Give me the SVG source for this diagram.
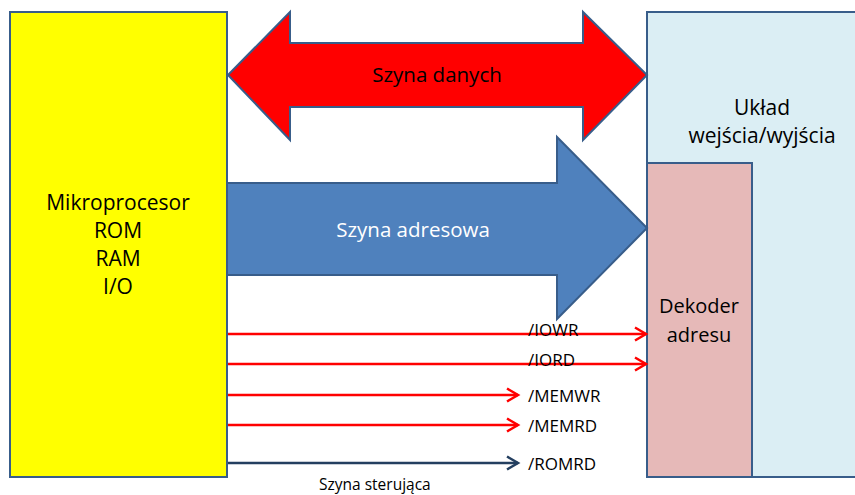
<svg xmlns="http://www.w3.org/2000/svg" width="855" height="495" viewBox="0 0 855 495">
<style>
.box{stroke:#385D8A;stroke-width:2}
.t{font-family:"Open Sans","Liberation Sans",sans-serif;fill:#000}
.lbl{font-family:"Open Sans","Liberation Sans",sans-serif;font-size:17px;fill:#000}
.red{stroke:#FF0000;stroke-width:2.5;fill:none}
.dk{stroke:#243F60;stroke-width:2.5;fill:none}
</style>
<defs>
<marker id="ar" markerUnits="userSpaceOnUse" markerWidth="16" markerHeight="16" refX="12" refY="8" orient="auto"><path d="M1,1.5 L12,8 L1,14.5" fill="none" stroke="#FF0000" stroke-width="2.5"/></marker>
<marker id="ad" markerUnits="userSpaceOnUse" markerWidth="16" markerHeight="16" refX="12" refY="8" orient="auto"><path d="M1,1.5 L12,8 L1,14.5" fill="none" stroke="#243F60" stroke-width="2.5"/></marker>
</defs>
<rect width="855" height="495" fill="#fff"/>
<g id="io">
<rect class="box" x="647" y="12" width="230" height="465" fill="#DBEEF4"/>
<text class="t" font-size="21" text-anchor="middle" x="762" y="115">Układ</text>
<text class="t" font-size="21" text-anchor="middle" x="762" y="143">wejścia/wyjścia</text>
</g>
<g id="dekoder">
<rect class="box" x="647" y="163" width="105" height="314" fill="#E6B9B8"/>
<text class="t" font-size="20" text-anchor="middle" x="699" y="313">Dekoder</text>
<text class="t" font-size="20" text-anchor="middle" x="699" y="342">adresu</text>
</g>
<g id="mikroprocesor">
<rect class="box" x="10" y="12" width="217" height="465" fill="#FFFF00"/>
<text class="t" font-size="21" text-anchor="middle" x="118" y="210">Mikroprocesor</text>
<text class="t" font-size="21" text-anchor="middle" x="118" y="238">ROM</text>
<text class="t" font-size="21" text-anchor="middle" x="118" y="266">RAM</text>
<text class="t" font-size="21" text-anchor="middle" x="118" y="294">I/O</text>
</g>
<g id="szyna-danych">
<polygon class="box" fill="#FF0000" points="228,75 290,12 290,43 583,43 583,12 647,75 583,140 583,107 290,107 290,140"/>
<text class="t" font-size="20.5" text-anchor="middle" x="437" y="82">Szyna danych</text>
</g>
<g id="szyna-adresowa">
<polygon class="box" fill="#4F81BD" points="227,183 557,183 557,137 647,228 557,319 557,275 227,275"/>
<text class="t" font-size="20.5" text-anchor="middle" x="413" y="237" style="fill:#fff">Szyna adresowa</text>
</g>
<g id="connectors">
<line class="red" x1="228" y1="334" x2="646" y2="334" marker-end="url(#ar)"/>
<line class="red" x1="228" y1="364" x2="646" y2="364" marker-end="url(#ar)"/>
<line class="red" x1="228" y1="395" x2="518" y2="395" marker-end="url(#ar)"/>
<line class="red" x1="228" y1="425" x2="518" y2="425" marker-end="url(#ar)"/>
<line class="dk" x1="228" y1="463" x2="518" y2="463" marker-end="url(#ad)"/>
</g>
<g id="labels">
<text class="lbl" x="528" y="336">/IOWR</text>
<text class="lbl" x="528" y="366">/IORD</text>
<text class="lbl" x="528" y="402">/MEMWR</text>
<text class="lbl" x="528" y="432">/MEMRD</text>
<text class="lbl" x="528" y="470">/ROMRD</text>
<text class="lbl" style="font-size:15.5px" x="319" y="490">Szyna sterująca</text>
</g>
</svg>
